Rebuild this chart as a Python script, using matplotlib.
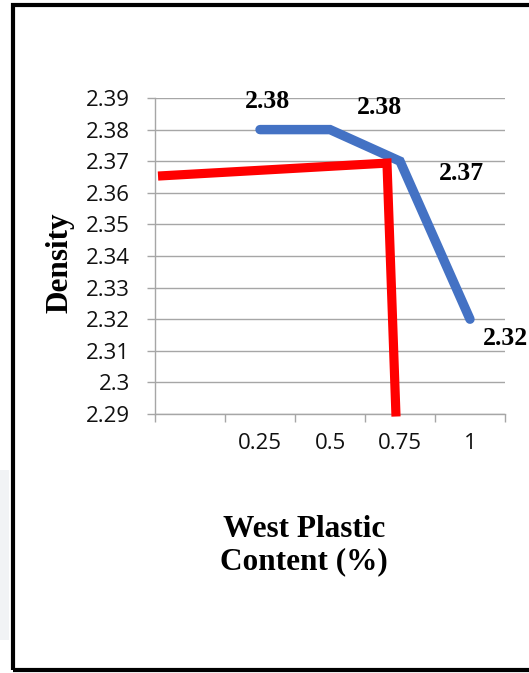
import numpy as np
import matplotlib
matplotlib.use("Agg")
import matplotlib.pyplot as plt
from matplotlib.ticker import FixedLocator, FuncFormatter, NullFormatter
from matplotlib.patches import Rectangle

# ---- data ----
categories = ["", "0.25", "0.5", "0.75", "1"]
density = [np.nan, 2.38, 2.38, 2.37, 2.32]
density_labels = ["", "2.38", "2.38", "2.37", "2.32"]
# red trend sketch (category-position units, density units)
red_x = [-0.457, 2.814, 2.943]
red_y = [2.3653, 2.3694, 2.2892]
y_ticks = [2.29, 2.30, 2.31, 2.32, 2.33, 2.34, 2.35, 2.36, 2.37, 2.38, 2.39]

W, H = 529, 673
DPI = 100
fig = plt.figure(figsize=(W / DPI, H / DPI), dpi=DPI)
fig.patch.set_facecolor("white")

ax = fig.add_axes([155 / W, 1 - 414 / H, 350 / W, 316 / H])
ax.set_facecolor("white")

grid_c = "#A6A6A6"
x = np.arange(len(categories))

ax.set_xlim(-0.5, len(categories) - 0.5)
ax.set_ylim(y_ticks[0], y_ticks[-1])

# gridlines
ax.yaxis.set_major_locator(FixedLocator(y_ticks))
ax.grid(axis="y", color=grid_c, linewidth=1.0, zorder=0)
ax.set_axisbelow(True)

# blue series
ax.plot(x, density, color="#4472C4", linewidth=6.8, solid_capstyle="round",
        solid_joinstyle="miter", zorder=3)

# red sketch line
ax.plot(red_x, red_y, color="#FF0000", linewidth=6.6, solid_capstyle="butt",
        solid_joinstyle="miter", zorder=4, clip_on=False)

# value labels
offsets = [(0, 0), (8, 28), (50, 22), (61, -12), (35, -19)]
for xi, yi, lab, off in zip(x, density, density_labels, offsets):
    if not lab:
        continue
    ax.annotate(lab, (xi, yi), xytext=off, textcoords="offset pixels",
                ha="center", va="center", fontsize=18.5, fontweight="bold",
                family="Liberation Serif", color="black", zorder=5,
                annotation_clip=False)

# axes styling
for s in ["top", "right"]:
    ax.spines[s].set_visible(False)
for s in ["left", "bottom"]:
    ax.spines[s].set_color(grid_c)
    ax.spines[s].set_linewidth(1.0)

ax.yaxis.set_major_formatter(FuncFormatter(lambda v, p: f"{v:g}"))
ax.tick_params(axis="y", which="major", direction="out", length=6,
               width=1.0, color=grid_c, pad=12, labelsize=16,
               labelcolor="#111111")

# category boundaries as ticks, labels centred on categories
ax.xaxis.set_major_locator(FixedLocator(np.arange(-0.5, len(categories), 1.0)))
ax.xaxis.set_major_formatter(NullFormatter())
ax.xaxis.set_minor_locator(FixedLocator(x))
ax.xaxis.set_minor_formatter(FuncFormatter(lambda v, p: categories[int(round(v))]))
ax.tick_params(axis="x", which="major", direction="out", length=6,
               width=1.0, color=grid_c)
ax.tick_params(axis="x", which="minor", length=0, pad=14, labelsize=16,
               labelcolor="#111111")

for lab in ax.get_yticklabels() + ax.get_xticklabels(minor=True):
    lab.set_family("Open Sans")

# axis titles
ax.set_ylabel("Density", fontsize=22.5, fontweight="bold",
              family="Liberation Serif")
ax.yaxis.set_label_coords((60 - 155) / 350, (414 - 263) / 316)
ax.yaxis.label.set_va("center")
ax.set_xlabel("West Plastic\nContent (%)", fontsize=22.5, fontweight="bold",
              family="Liberation Serif", linespacing=1.15)
ax.xaxis.set_label_coords((304 - 155) / 350, (414 - 546) / 316)
ax.xaxis.label.set_va("center")

# faint shape at the left margin
fig.patches.append(Rectangle((0, 1 - 640 / H), 9 / W, 170 / H,
                             transform=fig.transFigure, facecolor="#F1F3F5",
                             edgecolor="none", zorder=0))
# black frame around the chart (right side runs off the page)
fig.patches.append(Rectangle((12.5 / W, 1 - 670 / H), 540 / W, 665 / H,
                             transform=fig.transFigure, facecolor="none",
                             edgecolor="black", linewidth=3.0, zorder=10))

fig.savefig("out.png", dpi=DPI, facecolor="white")
